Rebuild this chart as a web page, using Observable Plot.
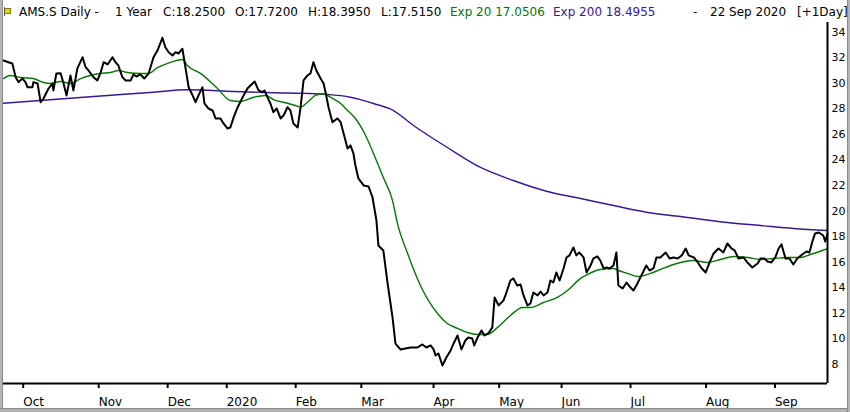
<!DOCTYPE html>
<html><head><meta charset="utf-8">
<script src="https://cdn.jsdelivr.net/npm/d3@7"></script>
<script src="https://cdn.jsdelivr.net/npm/@observablehq/plot@0.6"></script>
<style>
body{margin:0;background:#fff;}
#wrap{position:relative;width:850px;height:412px;overflow:hidden;background:#fff;font-family:"DejaVu Sans",sans-serif;}
#hdr span{position:absolute;top:5px;font-size:12px;white-space:pre;line-height:14px;color:#000;}
#chart{position:absolute;left:0;top:22px;}
.bd{position:absolute;background:#b4b4b4;}
</style></head>
<body>
<div id="wrap">
  <div id="hdr"></div>
  <div id="chart"></div>
  <div class="bd" style="left:0;top:0;width:2px;height:412px;border-right:1px solid #8a8a8a"></div>
  <div class="bd" style="left:0;top:408px;width:850px;height:4px;border-top:1px solid #8a8a8a"></div>
  <div class="bd" style="left:847px;top:0;width:3px;height:412px;border-left:1px solid #8a8a8a"></div>
  <div style="position:absolute;left:4px;top:7px;width:1px;height:9px;background:#555"></div>
  <div style="position:absolute;left:5px;top:8px;width:5px;height:4px;background:#e6d400;border:1px solid #8a7a00;border-left:none"></div>
</div>
<script>
// ---- data (trading-day index from 23 Sep 2019) ----
const priceDay = [0,1.5,2.7,3.7,4.6,5.8,6.7,7.3,8.8,9.1,10.4,11.3,12.2,13.7,14.9,15.2,16.1,17.4,18.3,19.2,20.4,21.3,22.5,24.1,25.0,25.9,27.4,28.6,29.5,30.5,31.7,33.2,34.1,35.0,36.2,37.2,38.7,39.6,40.5,41.7,42.9,44.2,45.7,46.9,48.4,49.3,50.3,51.5,52.4,53.3,54.5,55.4,56.4,57.6,58.5,59.4,60.6,61.2,62.4,63.7,64.6,66.1,67.0,68.2,69.1,70.1,71.3,72.8,74.3,76.5,77.7,78.9,79.5,80.4,81.3,82.2,83.2,84.4,85.3,86.5,87.4,88.3,89.6,90.5,91.4,92.6,93.5,94.4,95.3,96.6,97.5,98.1,99.0,100.2,101.7,102.7,103.6,104.8,105.7,106.6,107.2,108.1,109.7,111.2,112.4,113.6,114.2,115.7,117.0,118.5,119.4,120.9,122.4,124.0,126.1,127.6,128.8,130.1,131.0,131.6,132.5,133.7,134.9,136.2,137.1,138.3,139.5,140.7,141.6,142.8,143.4,144.4,145.6,146.5,147.7,148.9,149.6,150.8,152.3,152.9,154.4,155.3,156.5,157.5,158.4,159.6,160.5,161.4,162.7,163.6,164.5,165.7,166.6,167.5,168.4,169.4,170.6,171.5,172.4,173.6,174.5,175.4,176.7,177.6,178.8,179.7,180.9,181.8,182.8,183.7,184.6,185.8,186.7,187.3,188.6,189.8,191.0,191.9,193.1,194.6,195.8,196.8,198.0,198.9,200.1,201.7,202.9,204.1,205.4,206.6,207.8,208.7,210.3,211.5,212.7,213.9,215.1,216.3,217.8,219.3,220.5,221.8,222.7,223.9,225.4,226.6,228.1,229.7,230.6,231.8,232.7,233.9,235.1,236.1,237.0,238.2,239.4,240.6,241.8,243.3,244.6,245.5,246.4,247.2,248.4,249.7,250.3,251.0];
const priceClose = [31.77,31.64,31.54,30.47,30.08,30.36,30.08,29.68,29.68,30.08,29.97,28.51,28.80,29.58,29.97,29.43,30.76,30.78,29.97,29.04,30.60,29.43,31.15,32.03,31.25,30.99,30.47,30.21,30.76,31.64,31.46,32.03,31.64,31.38,30.47,30.21,30.21,30.68,30.52,30.68,30.36,30.76,32.03,32.55,33.55,32.81,32.42,32.16,32.42,32.32,32.69,31.25,29.68,29.04,28.51,29.04,29.68,28.41,28.02,27.86,27.24,27.24,26.85,26.46,26.53,27.32,28.10,28.88,29.58,30.13,29.43,29.29,29.43,28.90,28.41,27.73,28.02,27.24,27.47,28.12,27.86,26.85,26.53,28.12,30.21,30.60,30.76,31.64,30.99,30.36,29.97,29.29,28.12,26.95,27.24,26.95,26.06,24.89,25.13,24.50,23.56,22.55,22.00,21.92,21.08,19.26,17.31,16.92,14.34,11.68,9.64,9.18,9.25,9.33,9.33,9.57,9.33,9.49,9.18,8.71,8.86,7.92,8.55,9.10,9.64,10.27,9.18,9.88,10.11,10.04,9.49,10.11,10.66,10.27,10.43,10.90,13.24,12.62,13.01,13.40,14.57,14.73,14.18,14.26,13.40,12.62,12.77,13.63,13.40,13.71,13.40,13.63,14.57,14.41,15.20,14.57,15.51,16.37,16.53,17.15,16.53,16.76,16.37,15.20,15.74,16.29,16.45,16.13,15.51,15.59,15.51,15.74,16.76,14.18,13.94,14.41,14.02,13.79,14.34,15.12,15.74,15.35,15.51,16.37,16.37,16.76,16.29,16.37,16.29,16.53,17.07,16.53,16.37,15.98,15.51,15.20,15.98,16.68,17.07,16.76,17.46,17.07,16.92,16.29,16.37,15.98,15.59,15.90,16.29,16.29,16.06,15.98,16.37,17.07,17.39,16.29,16.29,15.82,16.29,16.60,16.84,16.76,17.62,18.25,18.32,18.09,17.62,18.25];

const ema20Day = [0,2.1,5.2,9.1,12.2,14.3,17.4,20.4,23.5,26.5,29.5,32.6,35.0,37.8,41.7,44.2,46.9,50.0,54.5,56.0,60.0,65.2,69.1,72.2,76.2,79.8,82.2,86.5,88.9,90.5,92.6,95.0,97.5,99.6,102.7,104.8,107.2,110.3,112.7,115.7,118.5,120.0,123.1,127.0,132.2,135.2,138.3,141.3,144.4,147.4,150.5,154.4,158.1,160.5,164.5,168.7,171.8,175.8,177.9,181.8,185.8,187.3,190.1,193.4,197.1,200.1,204.1,210.2,214.4,218.4,222.4,226.6,230.6,234.5,238.8,242.8,245.8,251.0];
const ema20Val = [30.36,30.60,30.44,30.36,30.05,29.97,30.13,29.97,30.36,30.60,30.76,30.83,30.99,30.83,30.76,30.76,31.22,31.54,31.85,31.38,30.76,29.58,28.64,28.57,28.90,29.04,28.72,28.43,28.25,28.12,28.51,29.04,29.17,28.90,28.41,27.86,27.24,25.91,24.50,22.62,20.82,19.03,16.68,14.18,11.99,11.21,10.82,10.50,10.35,10.35,10.90,11.83,12.46,12.46,12.85,13.24,13.79,14.73,15.04,15.43,15.51,15.35,15.12,14.88,15.12,15.43,15.82,16.13,15.98,16.21,16.45,16.37,16.21,16.29,16.37,16.37,16.60,17.05];

const ema200Day = [0,24.4,45.7,56.0,70.1,82.2,91.4,98.7,105.7,112.7,118.8,124.9,135.2,145.3,155.3,165.7,175.8,185.8,196.2,206.2,220.5,230.6,240.6,251.0];
const ema200Val = [28.43,28.90,29.29,29.48,29.35,29.25,29.20,29.12,28.90,28.41,27.86,26.69,24.97,23.41,22.39,21.53,20.98,20.43,19.89,19.57,19.10,18.87,18.64,18.48];

const tickDay = [6,29,50,68,89,109,131,151,170,191,214,235];
const tickLabels = ["Oct","Nov","Dec","2020","Feb","Mar","Apr","May","Jun","Jul","Aug","Sep"];
const yTicks = [8,10,12,14,16,18,20,22,24,26,28,30,32,34];
const xDomain = [0, 251];
const yDomain = [6.514, 34.743];

const headerParts = [
  {t:"AMS.S Daily -", x:19, c:"#000"},
  {t:"1 Year", x:115, c:"#000"},
  {t:"C:18.2500", x:163, c:"#000"},
  {t:"O:17.7200", x:235, c:"#000"},
  {t:"H:18.3950", x:308, c:"#000"},
  {t:"L:17.5150", x:381, c:"#000"},
  {t:"Exp 20 17.0506", x:450, c:"#087508"},
  {t:"Exp 200 18.4955", x:553, c:"#3a1890"},
  {t:"-", x:693, c:"#000"},
  {t:"22 Sep 2020", x:710, c:"#000"},
  {t:"[+1Day]", x:797, c:"#000"}
];

// ---- build ----
const hdr = document.getElementById("hdr");
for (const p of headerParts) {
  const s = document.createElement("span");
  s.textContent = p.t; s.style.left = p.x + "px"; s.style.color = p.c;
  hdr.appendChild(s);
}

const price = priceDay.map((d, i) => ({day: d, v: priceClose[i]}));
const ema20 = ema20Day.map((d, i) => ({day: d, v: ema20Val[i]}));
const ema200 = ema200Day.map((d, i) => ({day: d, v: ema200Val[i]}));

const chart = Plot.plot({
  width: 850, height: 390,
  marginLeft: 3, marginRight: 23, marginTop: 0, marginBottom: 29,
  x: {domain: xDomain},
  y: {domain: yDomain},
  style: {fontFamily: "DejaVu Sans", fontSize: "11px", color: "#000", background: "transparent", overflow: "visible"},
  marks: [
    Plot.line(ema200, {x: "day", y: "v", stroke: "#3a1890", strokeWidth: 1.4, curve: "monotone-x"}),
    Plot.line(ema20, {x: "day", y: "v", stroke: "#087508", strokeWidth: 1.4, curve: "monotone-x"}),
    Plot.line(price, {x: "day", y: "v", stroke: "#000", strokeWidth: 2, strokeLinejoin: "round"}),
    Plot.ruleY([yDomain[0]], {stroke: "#000", strokeWidth: 2}),
    Plot.ruleX([xDomain[1]], {stroke: "#000", strokeWidth: 2}),
    Plot.axisX({anchor: "bottom", ticks: tickDay, tickFormat: d => tickLabels[tickDay.indexOf(d)], tickSize: 5, tickPadding: 9, textAnchor: "start", strokeWidth: 2, fontSize: 12, label: null}),
    Plot.axisY({anchor: "right", ticks: yTicks, tickSize: 0, tickPadding: 4, fontSize: 11, label: null})
  ]
});
document.getElementById("chart").appendChild(chart);
</script>
</body></html>
